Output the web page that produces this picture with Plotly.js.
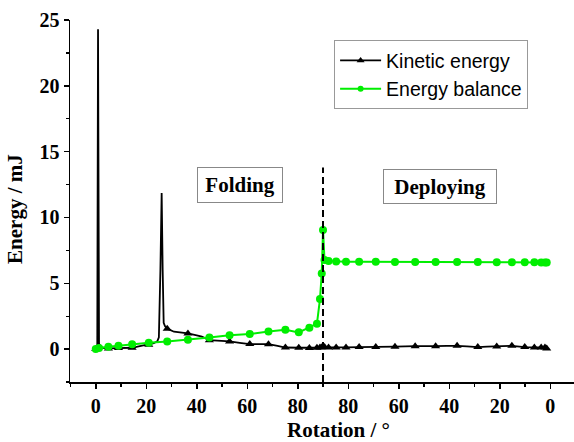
<!DOCTYPE html>
<html>
<head>
<meta charset="utf-8">
<script src="https://cdn.plot.ly/plotly-3.0.1.min.js"></script>
<style>html,body{margin:0;padding:0;background:#fff;}#chart{width:574px;height:442px;}</style>
</head>
<body>
<div id="chart"></div>
<script>
// ---- Data ----
// Folding phase: rotation angle 0 -> 90 (sample points with markers)
const foldAngle = [0, 1.3, 5, 9, 14.4, 21, 28.3, 36.5, 45, 53, 61, 68.4, 75.1, 80.4, 84.6, 87.6, 88.8, 89.5, 90];
const balanceFold = [0, 0.08, 0.17, 0.25, 0.36, 0.48, 0.58, 0.71, 0.89, 1.05, 1.15, 1.33, 1.46, 1.27, 1.62, 1.93, 3.8, 5.75, 9.05];
const kineticFold = [0, 0.2, 0.05, 0.08, 0.1, 0.33, 1.55, 1.19, 0.68, 0.58, 0.38, 0.37, 0.12, 0.1, 0.08, 0.1, 0.12, 0.14, 0.15];
// Extra kinetic-energy detail points between samples (folding)
const kineticFoldExtraAngle = [0.6, 0.9, 1.2, 2.5, 17, 19, 23, 24.4, 25.0, 25.6, 26.1, 26.5, 26.9, 27.4, 31, 33, 40, 42, 48, 57, 64, 72];
const kineticFoldExtraValue = [0.05, 24.3, 0.5, 0.1, 0.2, 0.28, 0.45, 0.6, 0.9, 6, 11.85, 6, 2.0, 1.75, 1.32, 1.28, 1.05, 0.95, 0.65, 0.48, 0.37, 0.25];
// Deploying phase: rotation angle 90 -> 0
const deployAngle = [89.4, 87.8, 84.8, 80.9, 75.7, 69.1, 61.5, 53.5, 45.4, 36.9, 28.7, 21.2, 15.2, 10.1, 6.3, 3.6, 2.1, 1.4];
const balanceDeploy = [6.77, 6.7, 6.65, 6.63, 6.63, 6.63, 6.62, 6.62, 6.62, 6.62, 6.62, 6.6, 6.6, 6.6, 6.6, 6.58, 6.57, 6.57];
const kineticDeploy = [0.15, 0.13, 0.12, 0.13, 0.15, 0.15, 0.18, 0.22, 0.22, 0.25, 0.15, 0.2, 0.25, 0.15, 0.12, 0.13, 0.12, 0.05];
const kineticDeployExtraAngle = [50, 41, 33, 25, 18];
const kineticDeployExtraValue = [0.2, 0.24, 0.2, 0.18, 0.22];

const tickAngles = [0, 20, 40, 60, 80];
const seriesNames = ['Kinetic energy', 'Energy balance'];
const phaseLabels = ['Folding', 'Deploying'];
const turnAngle = 90;

// ---- Map angles to a continuous path coordinate (fold 0..90, deploy 90..180) ----
const foldPos = a => a;
const deployPos = a => 2 * turnAngle - a;

const balX = foldAngle.map(foldPos).concat(deployAngle.map(deployPos));
const balY = balanceFold.concat(balanceDeploy);
const keMarkX = foldAngle.map(foldPos).concat(deployAngle.map(deployPos));
const keMarkY = kineticFold.concat(kineticDeploy);

let kePts = [];
foldAngle.forEach((a, i) => kePts.push([foldPos(a), kineticFold[i]]));
kineticFoldExtraAngle.forEach((a, i) => kePts.push([foldPos(a), kineticFoldExtraValue[i]]));
deployAngle.forEach((a, i) => kePts.push([deployPos(a), kineticDeploy[i]]));
kineticDeployExtraAngle.forEach((a, i) => kePts.push([deployPos(a), kineticDeployExtraValue[i]]));
kePts.sort((p, q) => p[0] - q[0]);

const tickvals = tickAngles.map(foldPos).concat(tickAngles.slice().reverse().map(deployPos));
const ticktext = tickAngles.map(String).concat(tickAngles.slice().reverse().map(String));

const GREEN = '#00ee00';
const serif = 'Liberation Serif, Times New Roman, serif';

const traces = [
  {x: kePts.map(p => p[0]), y: kePts.map(p => p[1]), mode: 'lines', type: 'scatter',
   line: {color: '#000', width: 1.8}, showlegend: false, hoverinfo: 'skip'},
  {x: keMarkX, y: keMarkY, mode: 'markers', type: 'scatter',
   marker: {symbol: 'triangle-up', size: 8, color: '#000'}, showlegend: false},
  {x: balX, y: balY, mode: 'lines+markers', type: 'scatter',
   line: {color: GREEN, width: 2}, marker: {symbol: 'circle', size: 8, color: GREEN}, showlegend: false},
  {x: [null], y: [null], name: seriesNames[0], mode: 'lines+markers', type: 'scatter',
   line: {color: '#000', width: 1.8}, marker: {symbol: 'triangle-up', size: 7, color: '#000'}},
  {x: [null], y: [null], name: seriesNames[1], mode: 'lines+markers', type: 'scatter',
   line: {color: GREEN, width: 2}, marker: {symbol: 'circle', size: 6, color: GREEN}}
];

const tickFont = {family: serif, size: 20, color: '#000', weight: 'bold'};

const layout = {
  width: 574, height: 442,
  margin: {l: 70, r: 0, t: 20, b: 60},
  paper_bgcolor: '#fff', plot_bgcolor: '#fff',
  showlegend: true,
  legend: {x: 0.524, y: 0.944, xanchor: 'left', yanchor: 'top',
           bordercolor: '#999', borderwidth: 1, bgcolor: '#fff',
           font: {family: 'Liberation Sans, Arial, sans-serif', size: 19.5, color: '#000'},
           itemwidth: 41, tracegroupgap: 0},
  xaxis: {range: [-10.2, 189.4], showgrid: false, zeroline: false,
          showline: true, linecolor: '#000', linewidth: 1.5,
          tickmode: 'array', tickvals: tickvals, ticktext: ticktext,
          ticks: 'outside', ticklen: 5, tickwidth: 1.5, tickcolor: '#000',
          tickfont: tickFont,
          minor: {tickmode: 'linear', tick0: -10, dtick: 20, ticks: 'outside', ticklen: 3, tickwidth: 1.3, tickcolor: '#000'}},
  yaxis: {range: [-2.5, 25], showgrid: false, zeroline: false,
          showline: true, linecolor: '#000', linewidth: 1.5,
          tickmode: 'linear', tick0: 0, dtick: 5,
          ticks: 'outside', ticklen: 5, tickwidth: 1.5, tickcolor: '#000',
          tickfont: tickFont,
          minor: {tickmode: 'linear', tick0: 0, dtick: 2.5, ticks: 'outside', ticklen: 3, tickwidth: 1.3, tickcolor: '#000'}},
  shapes: [
    {type: 'line', xref: 'x', yref: 'y', x0: turnAngle, x1: turnAngle, y0: -2.5, y1: 13.8,
     line: {color: '#000', width: 2, dash: '7px,4px'}}
  ],
  annotations: [
    {text: phaseLabels[0], xref: 'x', yref: 'y', x: 57.1, y: 12.48, showarrow: false,
     font: {family: serif, size: 21, color: '#000', weight: 'bold'},
     bordercolor: '#888', borderwidth: 1, borderpad: 4, width: 76, height: 26, bgcolor: '#fff'},
    {text: phaseLabels[1], xref: 'x', yref: 'y', x: 136.5, y: 12.33, showarrow: false,
     font: {family: serif, size: 21, color: '#000', weight: 'bold'},
     bordercolor: '#888', borderwidth: 1, borderpad: 4, width: 104, height: 25, bgcolor: '#fff'},
    {text: 'Rotation / °', xref: 'x', yref: 'paper', x: 96, y: 0, yanchor: 'middle', yshift: -48,
     showarrow: false, font: {family: serif, size: 21, color: '#000', weight: 'bold'}},
    {text: 'Energy / mJ', xref: 'paper', yref: 'y', x: 0, xshift: -55, y: 10.65, xanchor: 'center', yanchor: 'middle',
     textangle: -90, showarrow: false, font: {family: serif, size: 21, color: '#000', weight: 'bold'}}
  ]
};

Plotly.newPlot('chart', traces, layout, {displayModeBar: false, staticPlot: true});
</script>
</body>
</html>
